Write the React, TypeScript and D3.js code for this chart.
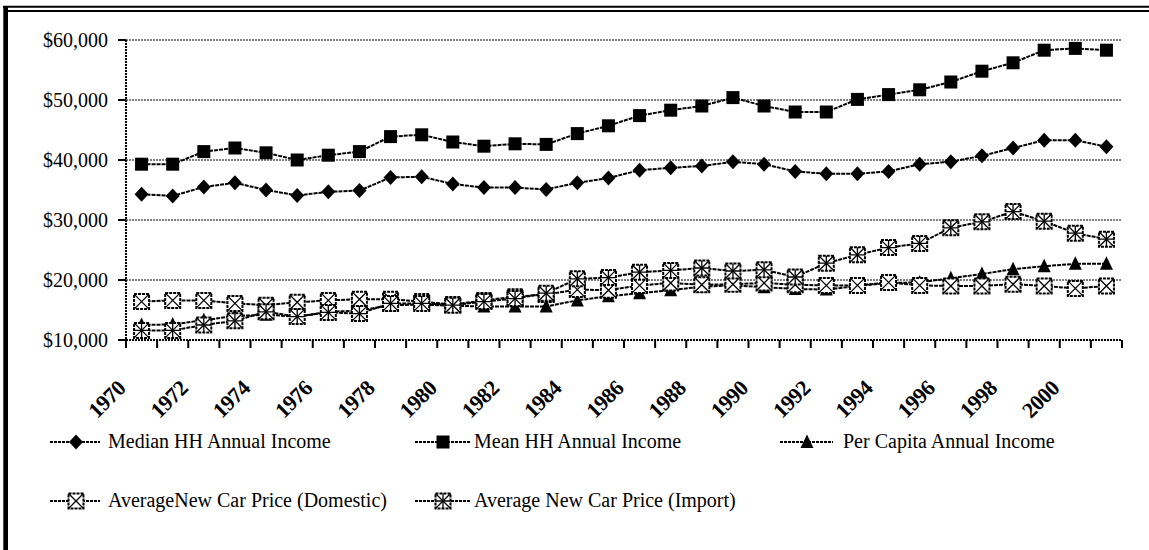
import React from "react";
import * as d3 from "d3";

const years = [
  "1970", "1971", "1972", "1973", "1974", "1975", "1976", "1977", "1978", "1979",
  "1980", "1981", "1982", "1983", "1984", "1985", "1986", "1987", "1988", "1989",
  "1990", "1991", "1992", "1993", "1994", "1995", "1996", "1997", "1998", "1999",
  "2000", "2001",
];
const tickLabels = ["1970", "1972", "1974", "1976", "1978", "1980", "1982", "1984", "1986", "1988", "1990", "1992", "1994", "1996", "1998", "2000"];
const yTicks = [10000, 20000, 30000, 40000, 50000, 60000];

const medianHH = [
  34300, 34000, 35500, 36200, 35000, 34100, 34700, 34900, 37100, 37200,
  36000, 35400, 35400, 35100, 36200, 37000, 38300, 38700, 39000, 39700,
  39300, 38100, 37700, 37700, 38100, 39300, 39700, 40700, 42000, 43300,
  43300, 42200,
];
const meanHH = [
  39300, 39300, 41400, 42000, 41200, 40000, 40800, 41400, 43900, 44200,
  43000, 42300, 42700, 42600, 44400, 45700, 47400, 48300, 49000, 50400,
  49000, 48000, 48000, 50100, 50900, 51700, 53000, 54800, 56200, 58300,
  58600, 58300,
];
const perCapita = [
  12500, 12600, 13300, 14000, 14200, 13900, 14700, 14900, 15800, 15900,
  15700, 15600, 15600, 15600, 16600, 17300, 17800, 18300, 18900, 19100,
  18800, 18500, 18400, 19000, 19500, 19600, 20300, 21000, 21800, 22300,
  22700, 22700,
];
const carDomestic = [
  16400, 16600, 16600, 16100, 15800, 16300, 16600, 16800, 16800, 16400,
  15900, 16600, 17200, 17600, 18400, 18300, 19100, 19500, 19200, 19300,
  19500, 19200, 19100, 19100, 19600, 19100, 19000, 19000, 19300, 19000,
  18600, 19000,
];
const carImport = [
  11600, 11600, 12500, 13200, 14700, 13900, 14600, 14400, 16100, 16100,
  15800, 16400, 16900, 17800, 20200, 20400, 21300, 21600, 22000, 21500,
  21700, 20500, 22800, 24200, 25400, 26100, 28700, 29700, 31400, 29800,
  27800, 26800,
];

const seriesNames = [
  "Median HH Annual Income",
  "Mean HH Annual Income",
  "Per Capita Annual Income",
  "AverageNew Car Price (Domestic)",
  "Average New Car Price (Import)",
];

type MarkerKind = "diamond" | "square" | "triangle" | "boxX" | "boxStar";

const series: { name: string; values: number[]; marker: MarkerKind }[] = [
  { name: seriesNames[0], values: medianHH, marker: "diamond" },
  { name: seriesNames[1], values: meanHH, marker: "square" },
  { name: seriesNames[2], values: perCapita, marker: "triangle" },
  { name: seriesNames[3], values: carDomestic, marker: "boxX" },
  { name: seriesNames[4], values: carImport, marker: "boxStar" },
];

const FONT = "'Liberation Serif', 'Times New Roman', Times, serif";
const textStyle = { fontFamily: FONT };

function Marker({ kind, x, y }: { kind: MarkerKind; x: number; y: number }) {
  if (kind === "diamond") {
    return <path d={`M${x},${y - 7.5}L${x + 7},${y}L${x},${y + 7.5}L${x - 7},${y}Z`} fill="#000" />;
  }
  if (kind === "square") {
    return <rect x={x - 6.5} y={y - 6.5} width={13} height={13} fill="#000" />;
  }
  if (kind === "triangle") {
    return <path d={`M${x},${y - 7.5}L${x + 6.5},${y + 6}L${x - 6.5},${y + 6}Z`} fill="#000" />;
  }
  const h = 7.5;
  return (
    <g>
      <rect x={x - h} y={y - h} width={2 * h} height={2 * h} fill="#fff" stroke="#000" strokeWidth={2} strokeDasharray="3 1" />
      <path d={`M${x - h},${y - h}L${x + h},${y + h}M${x + h},${y - h}L${x - h},${y + h}`} stroke="#000" strokeWidth={1.3} />
      {kind === "boxStar" && (
        <path d={`M${x},${y - h}L${x},${y + h}M${x - h},${y}L${x + h},${y}`} stroke="#000" strokeWidth={1.3} />
      )}
    </g>
  );
}

export default function App() {
  const W = 1149;
  const H = 550;
  const x = d3.scaleBand<string>().domain(years).range([126, 1122]).paddingInner(0).paddingOuter(0);
  const bw = x.bandwidth();
  const cx = (yr: string) => (x(yr) as number) + bw / 2;
  const y = d3.scaleLinear().domain([10000, 60000]).range([340, 40]);
  const fmt = (v: number) => "$" + d3.format(",")(v);

  const line = d3
    .line<number>()
    .x((_, i) => cx(years[i]))
    .y((v) => y(v));

  const legendPos = [
    { lx: 50, mx: 76, tx: 108, ly: 442 },
    { lx: 415, mx: 443, tx: 474, ly: 442 },
    { lx: 780, mx: 807, tx: 843, ly: 442 },
    { lx: 50, mx: 76, tx: 108, ly: 501 },
    { lx: 415, mx: 443, tx: 474, ly: 501 },
  ];
  const legendLineLen = [50, 55, 53, 50, 55];

  return (
    <svg
      width={W}
      height={H}
      style={{ position: "absolute", left: 0, top: 0, display: "block", background: "#fff", fontFamily: FONT }}
    >
      {/* frame */}
      <rect x={0} y={0} width={W} height={H} fill="#fff" />
      <line x1={3} x2={W} y1={6.8} y2={6.8} stroke="#000" strokeWidth={2} />
      <line x1={7} x2={W} y1={11} y2={11} stroke="#000" strokeWidth={2.2} />
      <rect x={3.3} y={6} width={4.7} height={H} fill="#000" />

      {/* gridlines */}
      {yTicks.slice(1).map((t) => (
        <line key={t} x1={126} x2={1121} y1={y(t)} y2={y(t)} stroke="#000" strokeWidth={1} strokeDasharray="2 1" />
      ))}
      {/* y axis */}
      <line x1={126} x2={126} y1={40} y2={340} stroke="#000" strokeWidth={2} strokeDasharray="2 1" />
      {yTicks.map((t) => (
        <g key={t}>
          <line x1={118} x2={126} y1={y(t)} y2={y(t)} stroke="#000" strokeWidth={2} />
          <text x={108} y={y(t)} dy="0.34em" textAnchor="end" fontSize={20} fill="#000" style={textStyle}>
            {fmt(t)}
          </text>
        </g>
      ))}
      {/* x axis */}
      <line x1={126} x2={1122} y1={340} y2={340} stroke="#000" strokeWidth={2} strokeDasharray="2 1" />
      {years.concat(["end"]).map((yr, i) => {
        const px = i < years.length ? (x(yr) as number) : 1122;
        return <line key={yr} x1={px} x2={px} y1={340} y2={348} stroke="#000" strokeWidth={2} />;
      })}
      {tickLabels.map((t) => (
        <text
          key={t}
          transform={`translate(${cx(t) - 35},${399}) rotate(-45)`}
          textAnchor="middle"
          dy="0.35em"
          fontSize={22}
          fontWeight="bold"
          letterSpacing={-0.5}
          fill="#000"
          style={textStyle}
        >
          {t}
        </text>
      ))}

      {/* series */}
      {series.map((s) => (
        <g key={s.name}>
          <path d={line(s.values) || ""} fill="none" stroke="#000" strokeWidth={2} strokeDasharray="4 1" />
          {s.values.map((v, i) => (
            <Marker key={i} kind={s.marker} x={cx(years[i])} y={y(v)} />
          ))}
        </g>
      ))}

      {/* legend */}
      {series.map((s, i) => {
        const p = legendPos[i];
        return (
          <g key={s.name}>
            <line x1={p.lx} x2={p.lx + legendLineLen[i]} y1={p.ly} y2={p.ly} stroke="#000" strokeWidth={2} strokeDasharray="3 1" />
            <Marker kind={s.marker} x={p.mx} y={p.ly} />
            <text x={p.tx} y={p.ly} dy="0.32em" fontSize={20} fill="#000" style={textStyle}>
              {s.name}
            </text>
          </g>
        );
      })}
    </svg>
  );
}
